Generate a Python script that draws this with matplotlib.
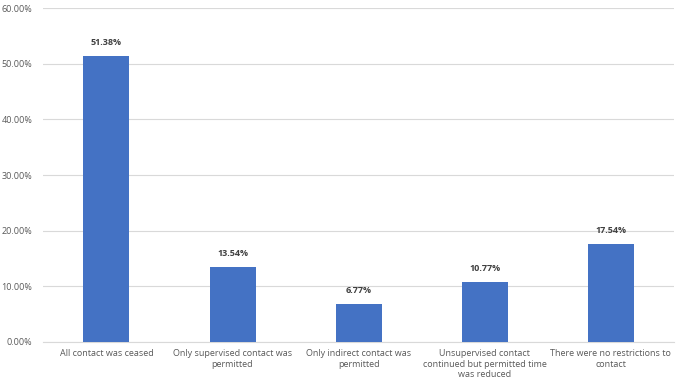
import matplotlib.pyplot as plt
import numpy as np
from matplotlib.ticker import FuncFormatter

plt.rcParams['font.family'] = ['Open Sans', 'DejaVu Sans']

categories = ['All contact was ceased',
              'Only supervised contact was\npermitted',
              'Only indirect contact was\npermitted',
              'Unsupervised contact\ncontinued but permitted time\nwas reduced',
              'There were no restrictions to\ncontact']
values = [51.38, 13.54, 6.77, 10.77, 17.54]

fig = plt.figure(figsize=(6.78, 3.86), dpi=100)
ax = fig.add_axes([0.064, 0.114, 0.93, 0.865])

x = np.arange(len(categories))
bars = ax.bar(x, values, width=0.365, color='#4472C4', zorder=3)

for b, v in zip(bars, values):
    ax.text(b.get_x() + b.get_width() / 2, v + 1.6, f'{v:.2f}%',
            ha='center', va='bottom', fontsize=6.5, fontweight='bold', color='#404040')

ax.set_ylim(0, 60)
ax.set_xlim(-0.5, len(categories) - 0.5)
ax.set_yticks(np.arange(0, 61, 10))
ax.yaxis.set_major_formatter(FuncFormatter(lambda v, p: f'{v:.2f}%'))
ax.set_xticks(x)
ax.set_xticklabels(categories, fontsize=6.5, color='#595959', linespacing=1.25)
ax.tick_params(axis='y', labelsize=6.5, labelcolor='#595959', length=0, pad=8)
ax.tick_params(axis='x', length=0, pad=5)
ax.grid(axis='y', color='#D9D9D9', linewidth=0.8, zorder=0)
for s in ['top', 'right', 'left']:
    ax.spines[s].set_visible(False)
ax.spines['bottom'].set_color('#D9D9D9')

fig.savefig('out.png', dpi=100)
